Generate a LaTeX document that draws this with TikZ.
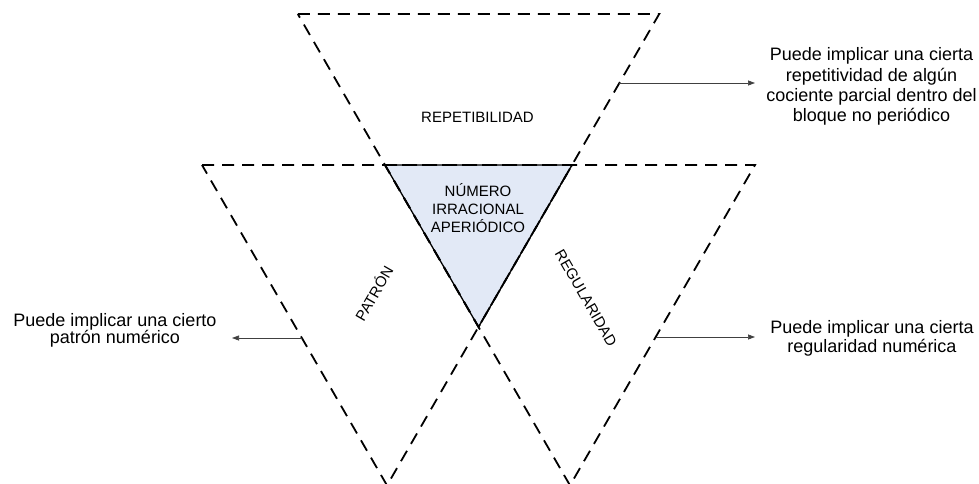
\documentclass[tikz,border=0pt]{standalone}
\usepackage{fontspec}
\setmainfont{Liberation Sans}
\usetikzlibrary{arrows.meta}
\definecolor{coreshade}{RGB}{226,233,246}
\begin{document}
\begin{tikzpicture}[x=1pt,y=-1pt,
  tri/.style={draw=black, line width=1.8pt, dash pattern=on 12pt off 8pt},
  corebox/.style={fill=coreshade, draw=black, line width=1.3pt, line join=miter},
  lbl/.style={font=\fontsize{15}{18}\selectfont, inner sep=0pt, align=center},
  note/.style={inner sep=0pt, align=center},
  arr/.style={draw=black!75, line width=0.7pt, -{Triangle[length=7pt,width=5pt]}}]
\useasboundingbox (0,0) rectangle (979,483);
% triangle vertices
\coordinate (T1) at (297.8,14);
\coordinate (T2) at (659.2,14);
\coordinate (T3) at (478.5,327);
\coordinate (L1) at (202,165);
\coordinate (L2) at (572,165);
\coordinate (L3) at (387,485.4);
\coordinate (R1) at (385,165);
\coordinate (R2) at (755,165);
\coordinate (R3) at (570,485.4);
% shaded core
\draw[corebox] (R1) -- (L2) -- (T3) -- cycle;
% dashed triangles
\draw[tri] (T1) -- (T2) -- (T3) -- cycle;
\draw[tri] (L1) -- (L2) -- (L3) -- cycle;
\draw[tri] (R1) -- (R2) -- (R3) -- cycle;
% labels
\node[lbl] (rep) at (477.5,117.7) {REPETIBILIDAD};
\node[lbl] (core) at (478,208) {NÚMERO\\IRRACIONAL\\APERIÓDICO};
\node[lbl, rotate=60] (pat) at (373.3,293.3) {PATRÓN};
\node[lbl, rotate=-60] (reg) at (586,298) {REGULARIDAD};
% notes
\node[note, font=\fontsize{18}{20.2}\selectfont] (n1) at (871.5,86.5)
  {Puede implicar una cierta\\repetitividad de algún\\cociente parcial dentro del\\bloque no periódico};
\node[note, font=\fontsize{18}{17.7}\selectfont] (n2) at (115,330.2)
  {Puede implicar una cierto\\patrón numérico};
\node[note, font=\fontsize{18}{19.4}\selectfont] (n3) at (872,338.4)
  {Puede implicar una cierta\\regularidad numérica};
% arrows
\coordinate (a1s) at (619.4,83);
\coordinate (a1e) at (755,83);
\coordinate (a2s) at (301.9,338);
\coordinate (a2e) at (232,338);
\coordinate (a3s) at (655.7,337);
\coordinate (a3e) at (755,337);
\draw[arr] (a1s) -- (a1e);
\draw[arr] (a2s) -- (a2e);
\draw[arr] (a3s) -- (a3e);
\end{tikzpicture}
\end{document}
